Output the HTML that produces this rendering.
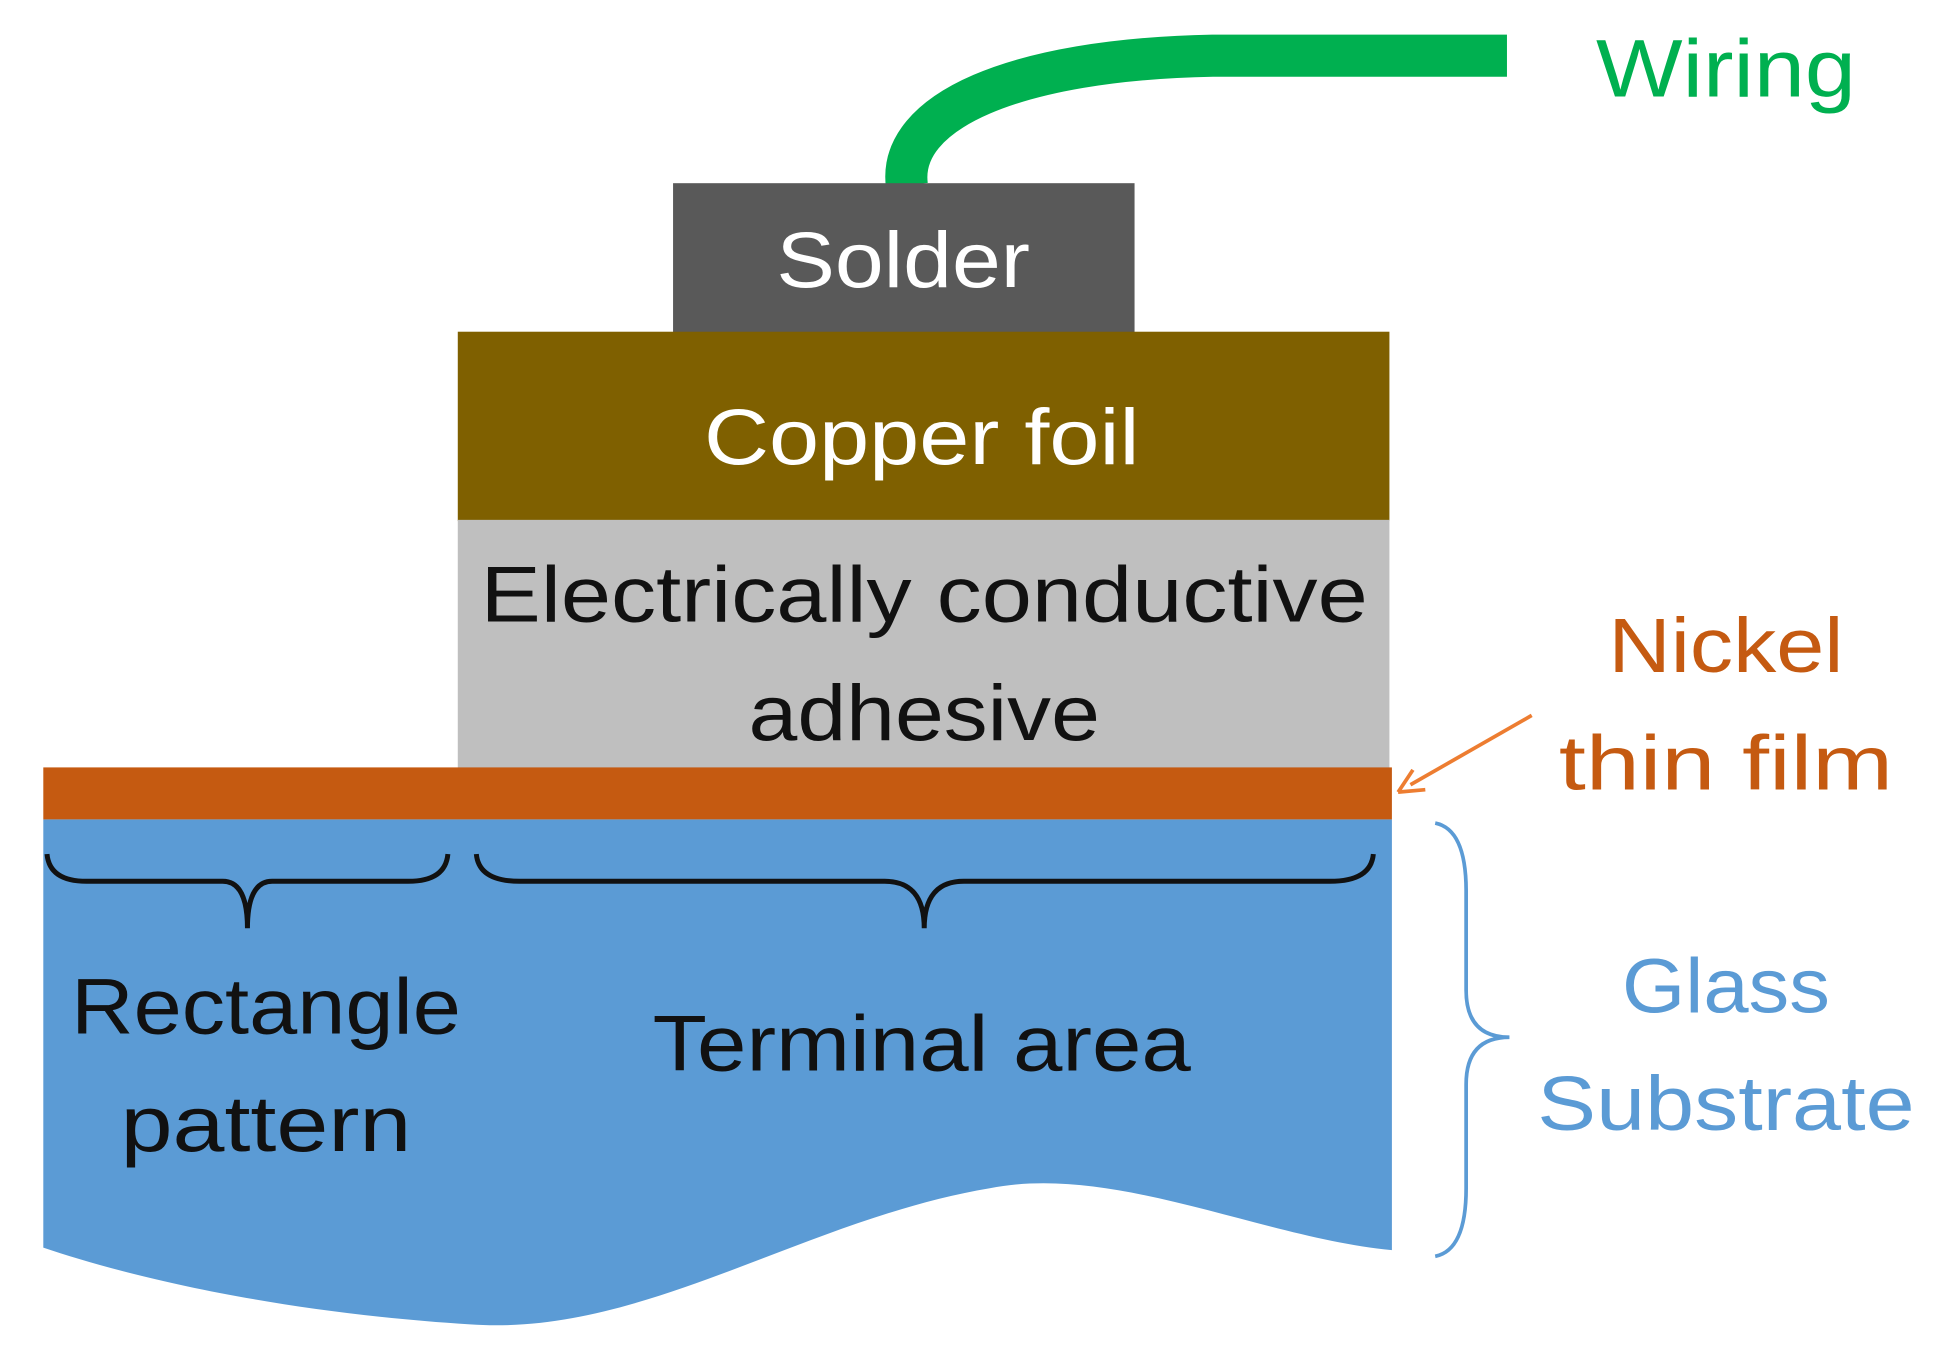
<!DOCTYPE html>
<html><head><meta charset="utf-8"><style>
html,body{margin:0;padding:0;background:#fff;}
svg{display:block;}
text{font-family:"Liberation Sans",sans-serif;}
</style></head><body>
<svg width="1940" height="1364" viewBox="0 0 1568 1102" preserveAspectRatio="none" xmlns="http://www.w3.org/2000/svg">
<rect width="1568" height="1102" fill="#fff"/>
<!-- wiring -->
<path d="M733,150 C725,90 820,48 980,45 L1218,45" fill="none" stroke="#00B050" stroke-width="34"/>
<text x="1290" y="78" font-size="66" fill="#00B050" textLength="210" lengthAdjust="spacingAndGlyphs">Wiring</text>
<!-- solder -->
<rect x="544" y="148" width="373" height="121" fill="#595959"/>
<text x="730" y="232" font-size="64" fill="#fff" text-anchor="middle" textLength="205" lengthAdjust="spacingAndGlyphs">Solder</text>
<!-- copper -->
<rect x="370" y="268" width="753" height="153" fill="#7F6000"/>
<text x="745" y="375" font-size="64" fill="#fff" text-anchor="middle" textLength="352" lengthAdjust="spacingAndGlyphs">Copper foil</text>
<!-- adhesive -->
<rect x="370" y="420" width="753" height="201" fill="#BFBFBF"/>
<text x="747" y="502" font-size="64" fill="#111" text-anchor="middle" textLength="717" lengthAdjust="spacingAndGlyphs">Electrically conductive</text>
<text x="747" y="598" font-size="64" fill="#111" text-anchor="middle" textLength="284" lengthAdjust="spacingAndGlyphs">adhesive</text>
<!-- glass -->
<path d="M35,662 L1125,662 L1125,1010 C1020,1000 900,940 800,960 C650,985 520,1080 380,1070 C220,1060 100,1030 35,1008 Z" fill="#5B9BD5"/>
<!-- nickel -->
<rect x="35" y="620" width="1090" height="42" fill="#C55A11"/>
<!-- braces -->
<path d="M38,690 Q40,712 70,712 L180,712 Q200,712 200,750 Q200,712 220,712 L330,712 Q360,712 362,690" fill="none" stroke="#111" stroke-width="4"/>
<path d="M385,690 Q387,712 420,712 L715,712 Q747,712 747,750 Q747,712 779,712 L1075,712 Q1108,712 1110,690" fill="none" stroke="#111" stroke-width="4"/>
<text x="215" y="835" font-size="64" fill="#111" text-anchor="middle" textLength="315" lengthAdjust="spacingAndGlyphs">Rectangle</text>
<text x="215" y="930" font-size="64" fill="#111" text-anchor="middle" textLength="235" lengthAdjust="spacingAndGlyphs">pattern</text>
<text x="745" y="865" font-size="64" fill="#111" text-anchor="middle" textLength="435" lengthAdjust="spacingAndGlyphs">Terminal area</text>
<!-- right brace -->
<path d="M1160,665 Q1185,670 1185,720 L1185,800 Q1185,838 1220,838 Q1185,838 1185,876 L1185,960 Q1185,1010 1160,1015" fill="none" stroke="#5B9BD5" stroke-width="3"/>
<text x="1395" y="818" font-size="62" fill="#5B9BD5" text-anchor="middle" textLength="168" lengthAdjust="spacingAndGlyphs">Glass</text>
<text x="1395" y="913" font-size="62" fill="#5B9BD5" text-anchor="middle" textLength="305" lengthAdjust="spacingAndGlyphs">Substrate</text>
<!-- nickel label -->
<text x="1395" y="543" font-size="62" fill="#C55A11" text-anchor="middle" textLength="190" lengthAdjust="spacingAndGlyphs">Nickel</text>
<text x="1395" y="638" font-size="62" fill="#C55A11" text-anchor="middle" textLength="270" lengthAdjust="spacingAndGlyphs">thin film</text>
<line x1="1238" y1="578" x2="1140" y2="634" stroke="#ED7D31" stroke-width="3"/>
<path d="M1130,640 L1142,622 M1130,640 L1152,638" stroke="#ED7D31" stroke-width="3" fill="none"/>
</svg>
</body></html>
